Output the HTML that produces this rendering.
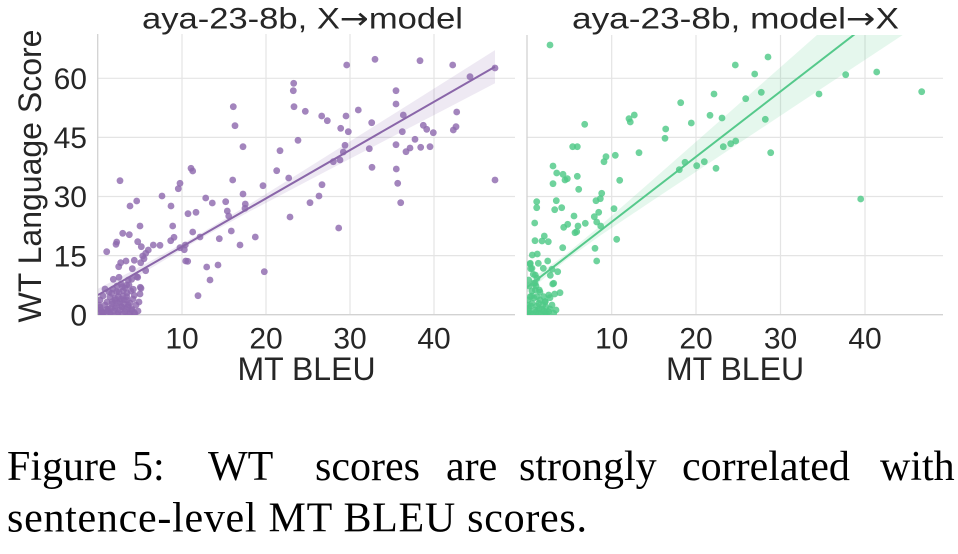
<!DOCTYPE html>
<html><head><meta charset="utf-8"><style>
html,body{margin:0;padding:0;background:#fff;}
svg{display:block;}
</style></head><body>
<svg width="958" height="554" viewBox="0 0 958 554" xmlns="http://www.w3.org/2000/svg">
<defs>
<clipPath id="cl"><rect x="98" y="34" width="417" height="281"/></clipPath>
<clipPath id="cr"><rect x="527" y="35" width="416" height="280"/></clipPath>
</defs>
<rect width="958" height="554" fill="#fff"/>
<g stroke="#e4e4e4" stroke-width="1.2" fill="none">
<line x1="98" y1="78.3" x2="515" y2="78.3"/><line x1="98" y1="137.4" x2="515" y2="137.4"/><line x1="98" y1="196.5" x2="515" y2="196.5"/><line x1="98" y1="255.6" x2="515" y2="255.6"/>
<line x1="182" y1="34" x2="182" y2="315"/><line x1="266" y1="34" x2="266" y2="315"/><line x1="350" y1="34" x2="350" y2="315"/><line x1="434" y1="34" x2="434" y2="315"/>
<line x1="527" y1="78.3" x2="943" y2="78.3"/><line x1="527" y1="137.4" x2="943" y2="137.4"/><line x1="527" y1="196.5" x2="943" y2="196.5"/><line x1="527" y1="255.6" x2="943" y2="255.6"/>
<line x1="611.7" y1="35" x2="611.7" y2="315"/><line x1="696" y1="35" x2="696" y2="315"/><line x1="780.5" y1="35" x2="780.5" y2="315"/><line x1="865" y1="35" x2="865" y2="315"/>
</g>
<g stroke="#d2d2d2" stroke-width="1.3" fill="none">
<line x1="97.7" y1="34" x2="97.7" y2="315"/><line x1="97.7" y1="314.7" x2="515" y2="314.7"/>
<line x1="527" y1="35" x2="527" y2="315"/><line x1="527" y1="314.7" x2="943" y2="314.7"/>
</g>
<g clip-path="url(#cl)" fill="#8f6aae" fill-opacity="0.82">
<circle cx="375" cy="59.3" r="3.4"/><circle cx="346.7" cy="65" r="3.4"/><circle cx="420" cy="60.7" r="3.4"/><circle cx="452.7" cy="65" r="3.4"/><circle cx="495" cy="68" r="3.4"/><circle cx="470" cy="76.7" r="3.4"/><circle cx="293.7" cy="83.3" r="3.4"/><circle cx="293.3" cy="90.7" r="3.4"/><circle cx="294" cy="106.7" r="3.4"/><circle cx="305.3" cy="111.3" r="3.4"/><circle cx="233.3" cy="106.7" r="3.4"/><circle cx="235" cy="125.7" r="3.4"/><circle cx="358.3" cy="110" r="3.4"/><circle cx="321.7" cy="116" r="3.4"/><circle cx="327.3" cy="120.7" r="3.4"/><circle cx="346" cy="116" r="3.4"/><circle cx="371.7" cy="122.7" r="3.4"/><circle cx="396" cy="90.7" r="3.4"/><circle cx="396" cy="104" r="3.4"/><circle cx="403.3" cy="115" r="3.4"/><circle cx="456.7" cy="112" r="3.4"/><circle cx="423.3" cy="125.3" r="3.4"/><circle cx="426.7" cy="129.3" r="3.4"/><circle cx="433.3" cy="132.7" r="3.4"/><circle cx="453.3" cy="130" r="3.4"/><circle cx="456" cy="126.7" r="3.4"/><circle cx="340.7" cy="128.3" r="3.4"/><circle cx="348.3" cy="131.7" r="3.4"/><circle cx="402.3" cy="131.7" r="3.4"/><circle cx="415" cy="139.3" r="3.4"/><circle cx="298" cy="140.3" r="3.4"/><circle cx="345" cy="145.3" r="3.4"/><circle cx="396" cy="144.7" r="3.4"/><circle cx="410" cy="148" r="3.4"/><circle cx="420.7" cy="147.3" r="3.4"/><circle cx="430" cy="146.7" r="3.4"/><circle cx="406" cy="151.7" r="3.4"/><circle cx="243" cy="146.7" r="3.4"/><circle cx="280" cy="150.7" r="3.4"/><circle cx="369.3" cy="148.7" r="3.4"/><circle cx="333.3" cy="161.7" r="3.4"/><circle cx="340" cy="160" r="3.4"/><circle cx="343.3" cy="152" r="3.4"/><circle cx="372" cy="167.3" r="3.4"/><circle cx="396.3" cy="169" r="3.4"/><circle cx="397.7" cy="183.3" r="3.4"/><circle cx="400.7" cy="202.7" r="3.4"/><circle cx="495" cy="180" r="3.4"/><circle cx="276.7" cy="170.7" r="3.4"/><circle cx="288.7" cy="178" r="3.4"/><circle cx="322" cy="184.7" r="3.4"/><circle cx="319" cy="196" r="3.4"/><circle cx="310" cy="202.7" r="3.4"/><circle cx="338.7" cy="228" r="3.4"/><circle cx="290" cy="217" r="3.4"/><circle cx="263" cy="185.7" r="3.4"/><circle cx="243" cy="194" r="3.4"/><circle cx="245.3" cy="204" r="3.4"/><circle cx="245" cy="208.3" r="3.4"/><circle cx="232.7" cy="180" r="3.4"/><circle cx="255.3" cy="237" r="3.4"/><circle cx="264.3" cy="271.7" r="3.4"/><circle cx="240" cy="245" r="3.4"/><circle cx="231.3" cy="231" r="3.4"/><circle cx="225.7" cy="201.7" r="3.4"/><circle cx="227.3" cy="211" r="3.4"/><circle cx="228.7" cy="216" r="3.4"/><circle cx="219.3" cy="238.7" r="3.4"/><circle cx="218" cy="265" r="3.4"/><circle cx="206.7" cy="267" r="3.4"/><circle cx="210" cy="280" r="3.4"/><circle cx="198" cy="295.7" r="3.4"/><circle cx="205.7" cy="198" r="3.4"/><circle cx="212.3" cy="203" r="3.4"/><circle cx="200" cy="237" r="3.4"/><circle cx="192.7" cy="232" r="3.4"/><circle cx="196" cy="212.3" r="3.4"/><circle cx="188" cy="213.7" r="3.4"/><circle cx="191" cy="168.3" r="3.4"/><circle cx="192.7" cy="171" r="3.4"/><circle cx="180" cy="183.3" r="3.4"/><circle cx="178.3" cy="188.7" r="3.4"/><circle cx="162" cy="196" r="3.4"/><circle cx="171" cy="206" r="3.4"/><circle cx="172.7" cy="226" r="3.4"/><circle cx="174" cy="237.3" r="3.4"/><circle cx="170.7" cy="240.7" r="3.4"/><circle cx="180" cy="247.7" r="3.4"/><circle cx="184.3" cy="249.7" r="3.4"/><circle cx="185.7" cy="261" r="3.4"/><circle cx="187.7" cy="261.3" r="3.4"/><circle cx="185.3" cy="245" r="3.4"/><circle cx="153.3" cy="245" r="3.4"/><circle cx="160" cy="245.3" r="3.4"/><circle cx="148.3" cy="250" r="3.4"/><circle cx="145.7" cy="253.3" r="3.4"/><circle cx="144" cy="258.7" r="3.4"/><circle cx="142.7" cy="256" r="3.4"/><circle cx="140.7" cy="262.7" r="3.4"/><circle cx="145.7" cy="270.7" r="3.4"/><circle cx="140" cy="226" r="3.4"/><circle cx="137.7" cy="241.7" r="3.4"/><circle cx="141.3" cy="246.7" r="3.4"/><circle cx="136.7" cy="201" r="3.4"/><circle cx="130" cy="206" r="3.4"/><circle cx="129.3" cy="234.7" r="3.4"/><circle cx="122.7" cy="233.3" r="3.4"/><circle cx="120" cy="180.7" r="3.4"/><circle cx="116" cy="244.3" r="3.4"/><circle cx="116.7" cy="242" r="3.4"/><circle cx="106.7" cy="251.7" r="3.4"/><circle cx="126" cy="261" r="3.4"/><circle cx="118.7" cy="266.7" r="3.4"/><circle cx="120.7" cy="262.7" r="3.4"/><circle cx="132.3" cy="268.7" r="3.4"/><circle cx="134.3" cy="260.3" r="3.4"/><circle cx="136.7" cy="276.7" r="3.4"/><circle cx="113.3" cy="279.3" r="3.4"/><circle cx="111.7" cy="293.3" r="3.4"/><circle cx="131.7" cy="279.3" r="3.4"/><circle cx="140.3" cy="287.3" r="3.4"/><circle cx="140" cy="294" r="3.4"/>
<circle cx="119" cy="277.3" r="3.4"/><circle cx="128.3" cy="280" r="3.4"/><circle cx="137.7" cy="277.3" r="3.4"/><circle cx="122.3" cy="286.7" r="3.4"/><circle cx="126.7" cy="285" r="3.4"/><circle cx="133.3" cy="289.3" r="3.4"/><circle cx="141" cy="288.3" r="3.4"/><circle cx="134.3" cy="295.3" r="3.4"/><circle cx="116.7" cy="291.7" r="3.4"/><circle cx="123.3" cy="290.7" r="3.4"/><circle cx="112.3" cy="301.7" r="3.4"/><circle cx="105" cy="305" r="3.4"/><circle cx="100" cy="307.3" r="3.4"/><circle cx="101.7" cy="311.7" r="3.4"/><circle cx="108.3" cy="309.3" r="3.4"/><circle cx="115" cy="308.3" r="3.4"/><circle cx="121.7" cy="306.7" r="3.4"/><circle cx="128.3" cy="305" r="3.4"/><circle cx="131.7" cy="310" r="3.4"/><circle cx="125" cy="311.7" r="3.4"/><circle cx="118.3" cy="312.7" r="3.4"/><circle cx="110" cy="313.3" r="3.4"/><circle cx="103.3" cy="312.7" r="3.4"/><circle cx="99" cy="313.3" r="3.4"/><circle cx="130" cy="313.3" r="3.4"/><circle cx="134.3" cy="312.7" r="3.4"/><circle cx="120" cy="301.7" r="3.4"/><circle cx="126.7" cy="296.7" r="3.4"/><circle cx="124.3" cy="300" r="3.4"/><circle cx="115" cy="298.3" r="3.4"/><circle cx="118.3" cy="296.7" r="3.4"/><circle cx="106.7" cy="309.3" r="3.4"/>
<circle cx="100" cy="300" r="3.4"/><circle cx="103" cy="296" r="3.4"/><circle cx="107" cy="302" r="3.4"/><circle cx="110" cy="297" r="3.4"/><circle cx="112" cy="304" r="3.4"/><circle cx="115" cy="300" r="3.4"/><circle cx="118" cy="303" r="3.4"/><circle cx="121" cy="299" r="3.4"/><circle cx="124" cy="304" r="3.4"/><circle cx="127" cy="300" r="3.4"/><circle cx="130" cy="303" r="3.4"/><circle cx="133" cy="299" r="3.4"/><circle cx="136" cy="305" r="3.4"/><circle cx="139" cy="302" r="3.4"/><circle cx="101" cy="310" r="3.4"/><circle cx="104" cy="313" r="3.4"/><circle cx="108" cy="311" r="3.4"/><circle cx="111" cy="314" r="3.4"/><circle cx="114" cy="311" r="3.4"/><circle cx="117" cy="314" r="3.4"/><circle cx="120" cy="310" r="3.4"/><circle cx="123" cy="314" r="3.4"/><circle cx="126" cy="309" r="3.4"/><circle cx="129" cy="314" r="3.4"/><circle cx="132" cy="309" r="3.4"/><circle cx="135" cy="314" r="3.4"/><circle cx="138" cy="311" r="3.4"/><circle cx="113" cy="289" r="3.4"/><circle cx="117" cy="286" r="3.4"/><circle cx="121" cy="284" r="3.4"/><circle cx="125" cy="288" r="3.4"/><circle cx="129" cy="285" r="3.4"/><circle cx="131" cy="291" r="3.4"/><circle cx="127" cy="293" r="3.4"/><circle cx="123" cy="296" r="3.4"/><circle cx="119" cy="292" r="3.4"/><circle cx="109" cy="292" r="3.4"/><circle cx="105" cy="289" r="3.4"/><circle cx="102" cy="314" r="3.4"/><circle cx="99" cy="305" r="3.4"/><circle cx="116" cy="306" r="3.4"/><circle cx="122" cy="307" r="3.4"/><circle cx="128" cy="307" r="3.4"/><circle cx="111" cy="308" r="3.4"/>
</g>
<g clip-path="url(#cl)">
<polygon fill="#8f6aae" fill-opacity="0.15" points="98,288.8 150,261.4 200,233.85 250,203.9 300,172.75 350,141.4 400,109.95 450,78.5 495,50.1 495,83.3 450,106.7 400,132.75 350,158.8 300,184.95 250,211.3 200,238.85 150,268.8 98,301.2"/>
<line x1="98" y1="295" x2="495" y2="66.7" stroke="#8a66a9" stroke-width="2"/>
</g>
<g clip-path="url(#cr)" fill="#4fc987" fill-opacity="0.82">
<circle cx="550" cy="45" r="3.4"/><circle cx="735.3" cy="65" r="3.4"/><circle cx="768" cy="57" r="3.4"/><circle cx="754.7" cy="74" r="3.4"/><circle cx="845.7" cy="74.7" r="3.4"/><circle cx="876.7" cy="72" r="3.4"/><circle cx="921.7" cy="91.7" r="3.4"/><circle cx="819" cy="94" r="3.4"/><circle cx="761.3" cy="92.3" r="3.4"/><circle cx="745.7" cy="98.7" r="3.4"/><circle cx="714" cy="94" r="3.4"/><circle cx="680.7" cy="102.7" r="3.4"/><circle cx="710" cy="115.3" r="3.4"/><circle cx="722" cy="118" r="3.4"/><circle cx="765.3" cy="119.3" r="3.4"/><circle cx="691.3" cy="123" r="3.4"/><circle cx="629" cy="118.7" r="3.4"/><circle cx="634.3" cy="115" r="3.4"/><circle cx="630.3" cy="122" r="3.4"/><circle cx="584.7" cy="124.3" r="3.4"/><circle cx="665.7" cy="129" r="3.4"/><circle cx="665" cy="138.3" r="3.4"/><circle cx="735.7" cy="141" r="3.4"/><circle cx="730.7" cy="143.7" r="3.4"/><circle cx="723.3" cy="146.7" r="3.4"/><circle cx="770.7" cy="152.7" r="3.4"/><circle cx="639" cy="152.7" r="3.4"/><circle cx="615.3" cy="155.3" r="3.4"/><circle cx="606" cy="156.7" r="3.4"/><circle cx="604" cy="161.7" r="3.4"/><circle cx="572.7" cy="146.7" r="3.4"/><circle cx="577.3" cy="146.7" r="3.4"/><circle cx="553" cy="166" r="3.4"/><circle cx="685" cy="162.3" r="3.4"/><circle cx="679.3" cy="169.7" r="3.4"/><circle cx="696.7" cy="165.7" r="3.4"/><circle cx="704.3" cy="161.7" r="3.4"/><circle cx="716" cy="168.3" r="3.4"/><circle cx="556.7" cy="173" r="3.4"/><circle cx="563" cy="174.3" r="3.4"/><circle cx="577.3" cy="176.3" r="3.4"/><circle cx="565" cy="180" r="3.4"/><circle cx="567.3" cy="178.7" r="3.4"/><circle cx="553" cy="183.7" r="3.4"/><circle cx="619.7" cy="180.3" r="3.4"/><circle cx="578.7" cy="189.3" r="3.4"/><circle cx="601.7" cy="193.3" r="3.4"/><circle cx="600.3" cy="198.7" r="3.4"/><circle cx="596" cy="200.7" r="3.4"/><circle cx="556.3" cy="200.7" r="3.4"/><circle cx="536.7" cy="201.7" r="3.4"/><circle cx="536.7" cy="207.7" r="3.4"/><circle cx="561.7" cy="207.7" r="3.4"/><circle cx="554.7" cy="209.7" r="3.4"/><circle cx="614" cy="208.7" r="3.4"/><circle cx="598.7" cy="212.3" r="3.4"/><circle cx="594.3" cy="216.7" r="3.4"/><circle cx="574" cy="216" r="3.4"/><circle cx="596.7" cy="222" r="3.4"/><circle cx="600.7" cy="226" r="3.4"/><circle cx="585.3" cy="223.3" r="3.4"/><circle cx="578" cy="226" r="3.4"/><circle cx="567.7" cy="224.3" r="3.4"/><circle cx="563.7" cy="227.3" r="3.4"/><circle cx="576.7" cy="231.7" r="3.4"/><circle cx="575" cy="232.7" r="3.4"/><circle cx="534.7" cy="223" r="3.4"/><circle cx="616.7" cy="239.3" r="3.4"/><circle cx="544.3" cy="236" r="3.4"/><circle cx="535" cy="240.7" r="3.4"/><circle cx="542" cy="241" r="3.4"/><circle cx="548.3" cy="241.7" r="3.4"/><circle cx="562.7" cy="247.7" r="3.4"/><circle cx="595" cy="248.3" r="3.4"/><circle cx="532.3" cy="255" r="3.4"/><circle cx="537.3" cy="254" r="3.4"/><circle cx="596.7" cy="261" r="3.4"/><circle cx="547.7" cy="261" r="3.4"/><circle cx="538.3" cy="263.3" r="3.4"/><circle cx="530" cy="264" r="3.4"/><circle cx="530.7" cy="268.7" r="3.4"/><circle cx="543.3" cy="268.3" r="3.4"/><circle cx="552" cy="269.3" r="3.4"/><circle cx="557.7" cy="271.7" r="3.4"/><circle cx="550.3" cy="275.3" r="3.4"/><circle cx="533.3" cy="274.3" r="3.4"/><circle cx="535" cy="283.3" r="3.4"/><circle cx="552.7" cy="284" r="3.4"/><circle cx="560" cy="292.7" r="3.4"/><circle cx="554.7" cy="294" r="3.4"/><circle cx="550" cy="297.7" r="3.4"/><circle cx="539.3" cy="290" r="3.4"/><circle cx="531.7" cy="296" r="3.4"/><circle cx="545" cy="301.7" r="3.4"/><circle cx="860.7" cy="199" r="3.4"/>
<circle cx="530.3" cy="263.3" r="3.4"/><circle cx="532" cy="268.3" r="3.4"/><circle cx="535.3" cy="275" r="3.4"/><circle cx="528.7" cy="280" r="3.4"/><circle cx="533.7" cy="283.3" r="3.4"/><circle cx="537" cy="278.3" r="3.4"/><circle cx="553.7" cy="283.3" r="3.4"/><circle cx="535.3" cy="290" r="3.4"/><circle cx="530.3" cy="296.7" r="3.4"/><circle cx="537" cy="296.7" r="3.4"/><circle cx="543.7" cy="296.7" r="3.4"/><circle cx="548.7" cy="295" r="3.4"/><circle cx="532" cy="303.3" r="3.4"/><circle cx="538.7" cy="303.3" r="3.4"/><circle cx="545.3" cy="301.7" r="3.4"/><circle cx="528.7" cy="308.3" r="3.4"/><circle cx="535.3" cy="310" r="3.4"/><circle cx="542" cy="309.3" r="3.4"/><circle cx="548.7" cy="311.7" r="3.4"/><circle cx="553.7" cy="313.3" r="3.4"/><circle cx="530.3" cy="313.3" r="3.4"/><circle cx="538.7" cy="313.3" r="3.4"/><circle cx="545.3" cy="313.3" r="3.4"/>
<circle cx="528" cy="300" r="3.4"/><circle cx="531" cy="306" r="3.4"/><circle cx="534" cy="298" r="3.4"/><circle cx="537" cy="306" r="3.4"/><circle cx="540" cy="300" r="3.4"/><circle cx="543" cy="305" r="3.4"/><circle cx="546" cy="307" r="3.4"/><circle cx="529" cy="311" r="3.4"/><circle cx="533" cy="314" r="3.4"/><circle cx="536" cy="312" r="3.4"/><circle cx="539" cy="309" r="3.4"/><circle cx="541" cy="314" r="3.4"/><circle cx="544" cy="311" r="3.4"/><circle cx="547" cy="314" r="3.4"/><circle cx="550" cy="309" r="3.4"/><circle cx="552" cy="305" r="3.4"/><circle cx="556" cy="310" r="3.4"/><circle cx="529" cy="286" r="3.4"/><circle cx="532" cy="291" r="3.4"/><circle cx="536" cy="286" r="3.4"/><circle cx="540" cy="292" r="3.4"/><circle cx="527" cy="314" r="3.4"/><circle cx="527" cy="305" r="3.4"/>
</g>
<g clip-path="url(#cr)">
<polygon fill="#4fc987" fill-opacity="0.15" points="527,282.1 565,254.95 600,226 650,182.3 700,138.3 750,94.1 800,50 850,5.8 900,-38.45 922,-57.8 922,22.2 900,36.75 850,69.8 800,102.8 750,135.9 700,169.1 650,202.3 600,235.8 565,260.95 527,292.5"/>
<line x1="527" y1="287.3" x2="922" y2="-17.8" stroke="#55c98b" stroke-width="2"/>
</g>
<g font-family="Liberation Sans, Arial, sans-serif" font-size="30" fill="#262626">
<text x="87" y="89" text-anchor="end">60</text>
<text x="87" y="148" text-anchor="end">45</text>
<text x="87" y="207.2" text-anchor="end">30</text>
<text x="87" y="266.3" text-anchor="end">15</text>
<text x="87" y="325.4" text-anchor="end">0</text>
<text x="182" y="348.5" text-anchor="middle">10</text>
<text x="266" y="348.5" text-anchor="middle">20</text>
<text x="350" y="348.5" text-anchor="middle">30</text>
<text x="434" y="348.5" text-anchor="middle">40</text>
<text x="611.7" y="348.5" text-anchor="middle">10</text>
<text x="696" y="348.5" text-anchor="middle">20</text>
<text x="780.5" y="348.5" text-anchor="middle">30</text>
<text x="865" y="348.5" text-anchor="middle">40</text>
<text x="142" y="28.5" textLength="321" lengthAdjust="spacingAndGlyphs">aya-23-8b, X<tspan font-family="DejaVu Sans, sans-serif">→</tspan>model</text>
<text x="572" y="28.5" textLength="327" lengthAdjust="spacingAndGlyphs">aya-23-8b, model<tspan font-family="DejaVu Sans, sans-serif">→</tspan>X</text>
</g>
<g font-family="Liberation Sans, Arial, sans-serif" font-size="32" fill="#262626">
<text x="306.5" y="380" text-anchor="middle">MT BLEU</text>
<text x="735" y="380" text-anchor="middle">MT BLEU</text>
<text transform="translate(41,176) rotate(-90)" text-anchor="middle">WT Language Score</text>
</g>
<g font-family="Liberation Serif, Times New Roman, serif" font-size="42" fill="#000">
<text x="7" y="480">Figure</text>
<text x="132" y="480">5:</text>
<text x="208" y="480">WT</text>
<text x="315" y="480">scores</text>
<text x="446" y="480">are</text>
<text x="519" y="480">strongly</text>
<text x="682" y="480">correlated</text>
<text x="880" y="480">with</text>
<text x="7" y="531.5" textLength="580" lengthAdjust="spacing">sentence-level MT BLEU scores.</text>
</g>
</svg>
</body></html>
